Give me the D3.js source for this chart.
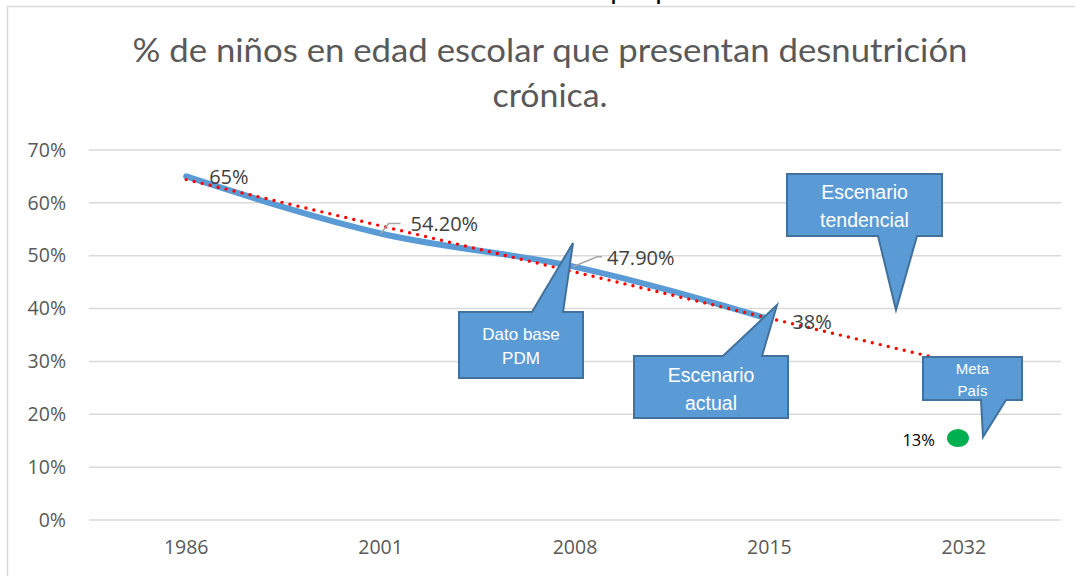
<!DOCTYPE html>
<html>
<head>
<meta charset="utf-8">
<script src="https://cdn.jsdelivr.net/npm/d3@7"></script>
<style>
  html, body { margin: 0; padding: 0; background: #fff; }
  svg { display: block; }
</style>
</head>
<body>
<div id="chart"></div>
<script>
// chart data
const years = ["1986", "2001", "2008", "2015", "2032"];
const values = [65, 54.2, 47.9, 38];          // % desnutrición crónica
const valueLabels = ["65%", "54.20%", "47.90%", "38%"];
const yTicks = [0, 10, 20, 30, 40, 50, 60, 70];
// linear trendline: [category index, value]
const trendPoints = [[0, 64.4], [3.82, 31.0]];
// "Meta País" marker, drawn at its position in the picture
const metaPoint = { index: 3.97, value: 15.5 };
const metaLabel = "13%";

const titleLines = ["% de niños en edad escolar que presentan desnutrición", "crónica."];

const W = 1075, H = 576;
const svg = d3.select("#chart").append("svg").attr("width", W).attr("height", H);

// cut-off heading above the chart (only descenders visible)
svg.append("g").attr("font-family", "Liberation Sans, Arial")
    .attr("font-weight", "bold").attr("font-size", 18).attr("fill", "#000")
    .selectAll("text").data([611, 656]).join("text")
    .attr("x", d => d).attr("y", -0.5).text("p");

// chart area border
svg.append("rect").attr("x", 7.5).attr("y", 6.5).attr("width", W + 10).attr("height", H + 10)
    .attr("fill", "#fff").attr("stroke", "#d9d9d9").attr("stroke-width", 1.5);

// title
svg.append("text")
    .attr("font-family", "Lato, Open Sans, sans-serif")
    .attr("font-size", 33)
    .attr("fill", "#595959")
    .attr("text-anchor", "middle")
    .selectAll("tspan")
    .data(titleLines)
    .join("tspan")
    .attr("x", 550)
    .attr("y", (d, i) => 62 + i * 45)
    .attr("textLength", (d, i) => i === 0 ? 835 : 115)
    .attr("lengthAdjust", "spacingAndGlyphs")
    .text(d => d);

// scales
const x = d3.scaleBand().domain(years).range([89, 1061]);
const y = d3.scaleLinear().domain([0, 70]).range([520, 150]);
const xAt = i => x(years[0]) + x.bandwidth() / 2 + i * x.step();

// gridlines
svg.append("g").selectAll("line").data(yTicks).join("line")
    .attr("x1", 89).attr("x2", 1061)
    .attr("y1", d => y(d)).attr("y2", d => y(d))
    .attr("stroke", "#d9d9d9").attr("stroke-width", 1.5);

// y axis labels
const yAxis = svg.append("g").attr("transform", "translate(89,0)")
    .call(d3.axisLeft(y).tickValues(yTicks).tickFormat(d => d + "%").tickSize(0).tickPadding(23));
yAxis.select(".domain").remove();
yAxis.selectAll("text").attr("font-family", "Open Sans, Noto Sans, sans-serif")
    .attr("font-size", 19.5).attr("fill", "#595959");

// x axis labels
const xAxis = svg.append("g").attr("transform", "translate(0,520)")
    .call(d3.axisBottom(x).tickSize(0).tickPadding(20));
xAxis.select(".domain").remove();
xAxis.selectAll("text").attr("font-family", "Open Sans, Noto Sans, sans-serif")
    .attr("font-size", 19.5).attr("fill", "#595959");

// main series
const line = d3.line()
    .x((d, i) => xAt(i))
    .y(d => y(d))
    .curve(d3.curveMonotoneX);

svg.append("path").datum(values)
    .attr("d", line)
    .attr("fill", "none")
    .attr("stroke", "#5b9bd5")
    .attr("stroke-width", 6)
    .attr("stroke-linecap", "round")
    .attr("stroke-linejoin", "round");

// trendline (red dotted)
svg.append("path").datum(trendPoints)
    .attr("d", d3.line().x(d => xAt(d[0])).y(d => y(d[1])))
    .attr("fill", "none")
    .attr("stroke", "#ff0000")
    .attr("stroke-width", 3.4)
    .attr("stroke-linecap", "round")
    .attr("stroke-dasharray", "0 8.2");

// data labels and leader lines
const labelOffsets = [
    { dx: 23, dy: 8, leader: false },
    { dx: 30, dy: -3, leader: true },
    { dx: 32, dy: -2, leader: true },
    { dx: 23, dy: 10, leader: false }
];
const labels = svg.append("g");
values.forEach((v, i) => {
    const px = xAt(i), py = y(v), o = labelOffsets[i];
    if (o.leader) {
        labels.append("path")
            .attr("d", i === 1
                ? `M${px},${py} L${px + 8},${py - 10} L${px + 20},${py - 10}`
                : `M${px - 2},${py} L${px + 22},${py - 10} L${px + 27},${py - 10}`)
            .attr("fill", "none").attr("stroke", "#a6a6a6").attr("stroke-width", 1.5);
    }
    labels.append("text")
        .attr("x", px + o.dx).attr("y", py + o.dy)
        .attr("font-family", "Open Sans, Noto Sans, sans-serif")
        .attr("font-size", 20).attr("fill", "#404040")
        .text(valueLabels[i]);
});

// meta point
svg.append("ellipse")
    .attr("cx", xAt(metaPoint.index)).attr("cy", y(metaPoint.value))
    .attr("rx", 11).attr("ry", 9).attr("fill", "#00b050");
svg.append("text")
    .attr("x", xAt(metaPoint.index) - 23).attr("y", y(metaPoint.value) + 8)
    .attr("text-anchor", "end")
    .attr("font-family", "Open Sans, Noto Sans, sans-serif")
    .attr("font-size", 16.5).attr("fill", "#000")
    .text(metaLabel);

// callouts: rectangle + pointer
const callouts = [
    { lines: ["Dato base", "PDM"], x0: 459, y0: 312, x1: 583, y1: 378, side: "top",
      b0: 532, b1: 563, tip: [573, 243], size: 17, cy: [340, 364] },
    { lines: ["Escenario", "actual"], x0: 634, y0: 356, x1: 788, y1: 418, side: "top",
      b0: 723, b1: 762, tip: [777, 305], size: 19.5, cy: [382, 410] },
    { lines: ["Escenario", "tendencial"], x0: 787, y0: 174, x1: 942, y1: 236, side: "bottom",
      b0: 878, b1: 917, tip: [896, 310], size: 19.5, cy: [199, 227] },
    { lines: ["Meta", "País"], x0: 923, y0: 357, x1: 1022, y1: 400, side: "bottom",
      b0: 981, b1: 1006, tip: [983, 437], size: 15, cy: [374, 396] }
];

const cg = svg.append("g");
callouts.forEach(c => {
    const p = d3.path();
    if (c.side === "top") {
        p.moveTo(c.x0, c.y0);
        p.lineTo(c.b0, c.y0);
        p.lineTo(c.tip[0], c.tip[1]);
        p.lineTo(c.b1, c.y0);
        p.lineTo(c.x1, c.y0);
        p.lineTo(c.x1, c.y1);
        p.lineTo(c.x0, c.y1);
    } else {
        p.moveTo(c.x0, c.y0);
        p.lineTo(c.x1, c.y0);
        p.lineTo(c.x1, c.y1);
        p.lineTo(c.b1, c.y1);
        p.lineTo(c.tip[0], c.tip[1]);
        p.lineTo(c.b0, c.y1);
        p.lineTo(c.x0, c.y1);
    }
    p.closePath();
    cg.append("path").attr("d", p.toString())
        .attr("fill", "#5b9bd5").attr("stroke", "#41719c").attr("stroke-width", 2)
        .attr("stroke-linejoin", "miter");
    cg.append("g").selectAll("text").data(c.lines).join("text")
        .attr("x", (c.x0 + c.x1) / 2)
        .attr("y", (d, i) => c.cy[i])
        .attr("text-anchor", "middle")
        .attr("font-family", "Liberation Sans, Arial, sans-serif")
        .attr("font-size", c.size)
        .attr("fill", "#fff")
        .text(d => d);
});
</script>
</body>
</html>
